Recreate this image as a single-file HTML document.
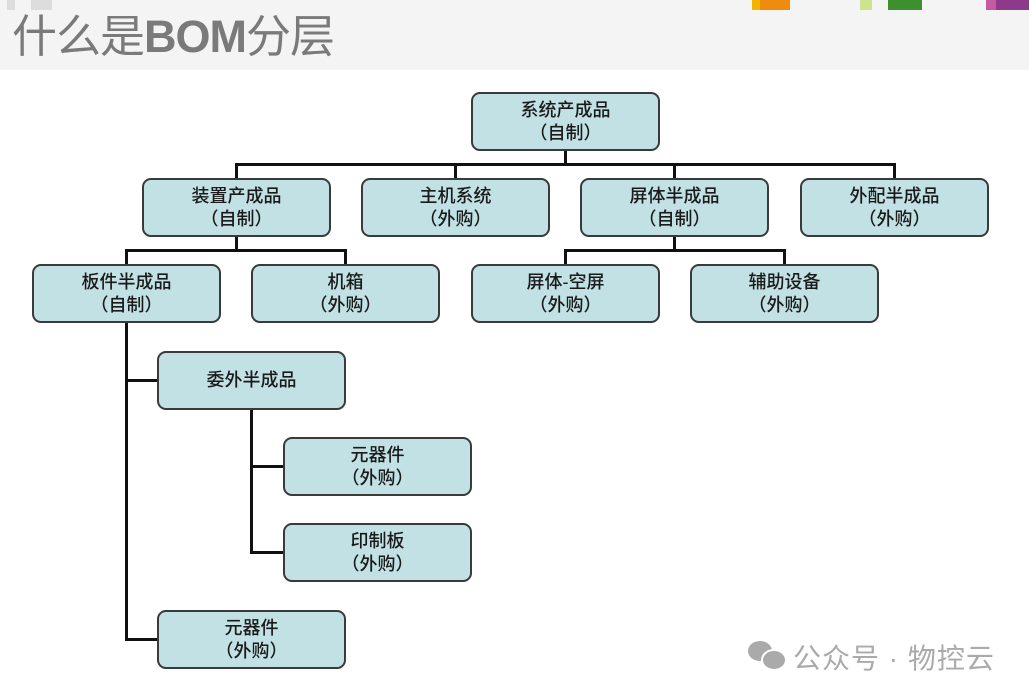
<!DOCTYPE html>
<html><head><meta charset="utf-8"><style>
body{margin:0;width:1029px;height:696px;background:#fff;position:relative;overflow:hidden;font-family:"Liberation Sans","Noto Sans CJK SC",sans-serif}
.hdr{position:absolute;left:0;top:0;width:1029px;height:70px;background:#f4f4f4}
.t{position:absolute;left:12px;top:10px;font-size:45px;color:#7a7a7a;line-height:54px;letter-spacing:-1px}
.t b{font-weight:bold}
.sq{position:absolute;top:0;height:10px}
.b{position:absolute;box-sizing:border-box;width:189px;height:59px;background:#c2e1e4;border:2px solid #3a3a3a;border-radius:9px;text-align:center;font-size:18px;color:#1a1a1a;line-height:23px;padding-top:5px;font-weight:500}
.b.one{padding-top:16px}
.l{position:absolute;background:#111}
.wm{position:absolute;left:793px;top:637px;font-size:28px;color:#aaa;letter-spacing:1px}
</style></head><body>
<div class="hdr"></div>
<div class="sq" style="left:7px;width:8px;background:#ddd"></div>
<div class="sq" style="left:31px;width:21px;background:#ddd"></div>
<div class="sq" style="left:752px;width:8px;background:#f2b400"></div>
<div class="sq" style="left:760px;width:30px;background:#ef8c10"></div>
<div class="sq" style="left:860px;width:12px;background:#cfe28e"></div>
<div class="sq" style="left:888px;width:34px;background:#3e8f2e"></div>
<div class="sq" style="left:986px;width:10px;background:#c45aa0"></div>
<div class="sq" style="left:996px;width:33px;background:#8e3a8a"></div>
<div class="t">什么是<b>BOM</b>分层</div>

<div class="l" style="left:564px;top:150px;width:3px;height:15px"></div>
<div class="l" style="left:235px;top:163px;width:661px;height:3px"></div>
<div class="l" style="left:235px;top:163px;width:3px;height:16px"></div>
<div class="l" style="left:454px;top:163px;width:3px;height:16px"></div>
<div class="l" style="left:673px;top:163px;width:3px;height:16px"></div>
<div class="l" style="left:893px;top:163px;width:3px;height:16px"></div>
<div class="l" style="left:235px;top:236px;width:3px;height:15px"></div>
<div class="l" style="left:125px;top:249px;width:222px;height:3px"></div>
<div class="l" style="left:125px;top:249px;width:3px;height:16px"></div>
<div class="l" style="left:344px;top:249px;width:3px;height:16px"></div>
<div class="l" style="left:673px;top:236px;width:3px;height:15px"></div>
<div class="l" style="left:564px;top:249px;width:222px;height:3px"></div>
<div class="l" style="left:564px;top:249px;width:3px;height:16px"></div>
<div class="l" style="left:783px;top:249px;width:3px;height:16px"></div>
<div class="l" style="left:125px;top:322px;width:3px;height:318px"></div>
<div class="l" style="left:125px;top:379px;width:33px;height:3px"></div>
<div class="l" style="left:125px;top:638px;width:33px;height:3px"></div>
<div class="l" style="left:250px;top:409px;width:3px;height:145px"></div>
<div class="l" style="left:250px;top:465px;width:34px;height:3px"></div>
<div class="l" style="left:250px;top:551px;width:34px;height:3px"></div>

<div class="b" style="left:471px;top:92px">系统产成品<br>（自制）</div>
<div class="b" style="left:142px;top:178px">装置产成品<br>（自制）</div>
<div class="b" style="left:361px;top:178px">主机系统<br>（外购）</div>
<div class="b" style="left:580px;top:178px">屏体半成品<br>（自制）</div>
<div class="b" style="left:800px;top:178px">外配半成品<br>（外购）</div>
<div class="b" style="left:32px;top:264px">板件半成品<br>（自制）</div>
<div class="b" style="left:251px;top:264px">机箱<br>（外购）</div>
<div class="b" style="left:471px;top:264px">屏体-空屏<br>（外购）</div>
<div class="b" style="left:690px;top:264px">辅助设备<br>（外购）</div>
<div class="b one" style="left:157px;top:351px">委外半成品</div>
<div class="b" style="left:283px;top:437px">元器件<br>（外购）</div>
<div class="b" style="left:283px;top:523px">印制板<br>（外购）</div>
<div class="b" style="left:157px;top:610px">元器件<br>（外购）</div>

<svg style="position:absolute;left:745px;top:637px" width="44" height="36">
<ellipse cx="15" cy="14" rx="12" ry="10" fill="#aaa"/>
<ellipse cx="29" cy="23" rx="12" ry="10" fill="#aaa" stroke="#fff" stroke-width="2"/>
</svg>
<div class="wm">公众号 · 物控云</div>
</body></html>
